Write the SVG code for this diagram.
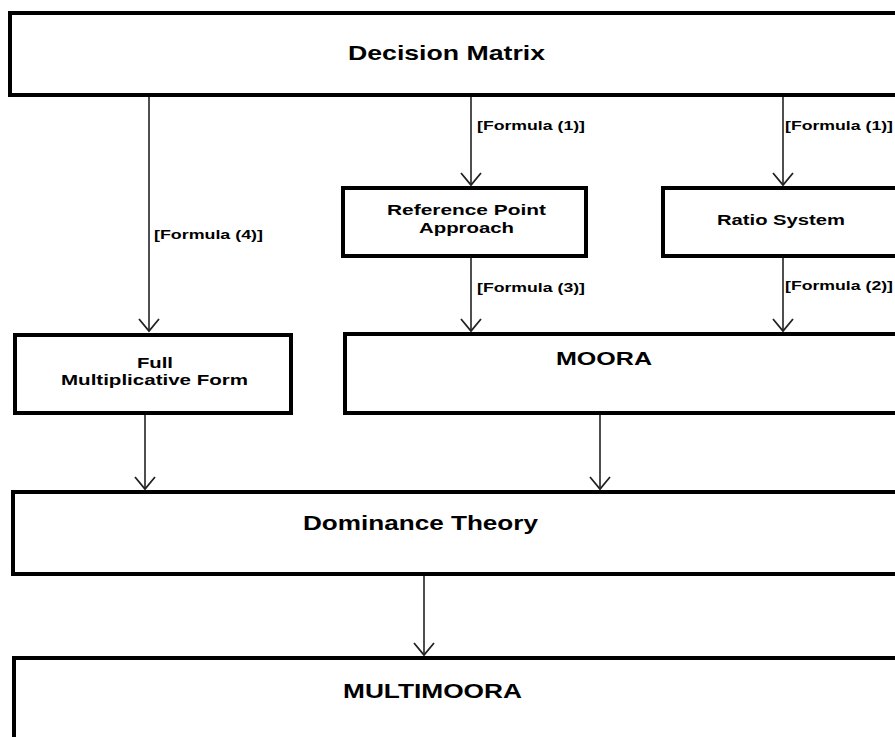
<svg xmlns="http://www.w3.org/2000/svg" width="895" height="737" viewBox="0 0 895 737">
<style>
.box{fill:#fff;stroke:#000;stroke-width:4}
.t{font-family:"Liberation Sans",Arial,sans-serif;font-weight:bold;fill:#000;text-anchor:start}
.big{font-size:21px}
.mid{font-size:14px}
.lab{font-size:13px}
.c{fill:none;stroke:#222;stroke-width:1.6}
</style>
<defs>
<marker id="ah" markerWidth="30" markerHeight="30" viewBox="-15 -15 30 30" refX="0" refY="0" orient="auto" markerUnits="userSpaceOnUse" overflow="visible">
<path d="M-12,-10 L0,0 L-12,10" fill="none" stroke="#222" stroke-width="1.8"/>
</marker>
</defs>
<rect width="895" height="737" fill="#fff"/>
<g id="decision-matrix">
<rect class="box" x="10" y="13" width="900" height="82"/>
<text class="t big" x="348" y="60" textLength="197" lengthAdjust="spacingAndGlyphs">Decision Matrix</text>
</g>
<g id="reference-point">
<rect class="box" x="343" y="188" width="243" height="68"/>
<text class="t mid" x="387" y="215" textLength="159" lengthAdjust="spacingAndGlyphs">Reference Point</text>
<text class="t mid" x="419" y="233" textLength="95" lengthAdjust="spacingAndGlyphs">Approach</text>
</g>
<g id="ratio-system">
<rect class="box" x="663" y="188" width="260" height="68"/>
<text class="t mid" x="717" y="225" textLength="128" lengthAdjust="spacingAndGlyphs">Ratio System</text>
</g>
<g id="full-multiplicative">
<rect class="box" x="15" y="335" width="276" height="78"/>
<text class="t mid" x="137" y="368" textLength="36" lengthAdjust="spacingAndGlyphs">Full</text>
<text class="t mid" x="61" y="385" textLength="187" lengthAdjust="spacingAndGlyphs">Multiplicative Form</text>
</g>
<g id="moora">
<rect class="box" x="345" y="334" width="600" height="79"/>
<text class="t" style="font-size:18px" x="556" y="365" textLength="96" lengthAdjust="spacingAndGlyphs">MOORA</text>
</g>
<g id="dominance-theory">
<rect class="box" x="13" y="492" width="900" height="82"/>
<text class="t big" x="303" y="530" textLength="235" lengthAdjust="spacingAndGlyphs">Dominance Theory</text>
</g>
<g id="multimoora">
<rect class="box" x="14" y="658" width="900" height="120"/>
<text class="t big" x="343" y="698" textLength="179" lengthAdjust="spacingAndGlyphs">MULTIMOORA</text>
</g>
<g id="connectors">
<line class="c" x1="149" y1="97" x2="149" y2="331" marker-end="url(#ah)"/>
<line class="c" x1="471" y1="97" x2="471" y2="185" marker-end="url(#ah)"/>
<line class="c" x1="783" y1="97" x2="783" y2="185" marker-end="url(#ah)"/>
<line class="c" x1="471" y1="258" x2="471" y2="331" marker-end="url(#ah)"/>
<line class="c" x1="783" y1="258" x2="783" y2="331" marker-end="url(#ah)"/>
<line class="c" x1="145" y1="415" x2="145" y2="489" marker-end="url(#ah)"/>
<line class="c" x1="600" y1="415" x2="600" y2="489" marker-end="url(#ah)"/>
<line class="c" x1="424" y1="576" x2="424" y2="655" marker-end="url(#ah)"/>
<text class="t lab" x="154" y="239" textLength="109" lengthAdjust="spacingAndGlyphs">[Formula (4)]</text>
<text class="t lab" x="477" y="130" textLength="108" lengthAdjust="spacingAndGlyphs">[Formula (1)]</text>
<text class="t lab" x="785" y="130" textLength="108" lengthAdjust="spacingAndGlyphs">[Formula (1)]</text>
<text class="t lab" x="477" y="292" textLength="108" lengthAdjust="spacingAndGlyphs">[Formula (3)]</text>
<text class="t lab" x="785" y="290" textLength="108" lengthAdjust="spacingAndGlyphs">[Formula (2)]</text>
</g>
</svg>
